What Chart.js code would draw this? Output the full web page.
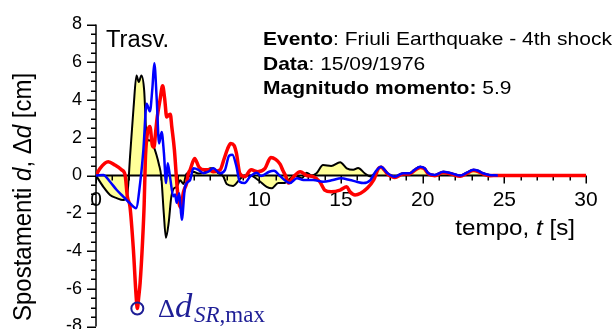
<!DOCTYPE html>
<html>
<head>
<meta charset="utf-8">
<script src="https://cdn.jsdelivr.net/npm/chart.js@4.4.1/dist/chart.umd.min.js"></script>
<style>
  html, body { margin: 0; padding: 0; background: #ffffff; }
  #wrap { width: 614px; height: 329px; position: relative; }
</style>
</head>
<body>
<div id="wrap"><canvas id="chart" width="614" height="329"></canvas></div>
<script>
// Time histories of transverse displacement, Friuli 15/09/1976 (t [s], d [cm])
const blackTrace = [
  [0,0],[0.45,-0.6],[0.86,-1.03],[1.27,-1.2],[1.67,-1.3],[1.9,-1.1],[2.1,1.2],[2.3,3.6],
  [2.48,5.3],[2.62,4.95],[2.78,5.3],[2.95,4.5],[3.1,2.0],[3.25,1.85],[3.4,1.9],[3.55,1.5],
  [3.7,1.1],[3.85,0.6],[4.0,-0.1],[4.15,-2.0],[4.28,-3.3],[4.45,-2.5],[4.6,-1.2],[4.75,-0.7],
  [4.95,-0.6],[5.15,-0.25],[5.35,-0.45],[5.55,0.1],[5.76,-0.05],[5.96,0.2],[6.27,0.1],[6.6,0.15],
  [6.98,0.38],[7.18,0.38],[7.45,0.15],[7.8,-0.06],[8.0,-0.45],[8.4,-0.55],[8.8,-0.2],[9.1,0.0],
  [9.45,0.0],[9.95,-0.25],[10.45,-0.6],[10.76,-0.68],[11.16,-0.4],[11.57,-0.4],[11.9,-0.15],[12.2,0.0],
  [12.6,-0.15],[12.9,0.15],[13.2,0.0],[13.5,0.12],[13.9,0.55],[14.4,0.5],[14.95,0.7],[15.35,0.38],
  [15.75,0.3],[16.05,0.4],[16.45,0.12],[16.8,-0.05],[17.15,0.2],[17.45,0.47],[17.85,0.12],[18.3,-0.06],
  [18.8,0.12],[19.2,0.12],[19.5,0.3],[19.85,0.47],[20.1,0.4],[20.35,0.12],[20.75,0.03],[21.25,0.2],
  [21.75,0.12],[22.3,0.0],[22.7,0.15],[23.1,0.3],[23.4,0.25],[23.7,0.12],[24.1,0.03],[24.6,0.0]
];
const blueTrace = [
  [0,0],[0.45,0.03],[0.86,-0.33],[1.27,-0.77],[1.67,-1.12],[2.08,-1.47],[2.45,-1.73],[2.7,-0.42],
  [2.9,1.35],[3.1,3.8],[3.3,3.4],[3.45,4.6],[3.57,5.95],[3.72,4.0],[3.86,1.7],[4.02,2.3],
  [4.16,1.17],[4.29,-0.4],[4.39,0.65],[4.53,-0.06],[4.73,-1.1],[4.84,-1.0],[4.94,-1.45],[5.1,-0.94],
  [5.25,-2.35],[5.45,-0.6],[5.76,-0.24],[5.96,0.38],[6.27,0.3],[6.57,0.12],[6.88,0.2],[7.18,0.38],
  [7.6,0.12],[7.9,0.3],[8.15,1.05],[8.35,1.1],[8.6,0.47],[8.8,-0.33],[9.1,-0.4],[9.43,-0.06],
  [9.84,0.15],[10.1,-0.03],[10.6,0.2],[10.9,0.25],[11.27,-0.03],[11.88,-0.4],[12.3,-0.15],[12.7,-0.24],
  [13.3,-0.24],[13.9,-0.33],[14.5,-0.24],[15.0,-0.15],[15.55,-0.24],[15.96,-0.33],[16.37,-0.4],[16.8,-0.24],
  [17.15,0.25],[17.45,0.47],[17.85,0.12],[18.3,-0.06],[18.8,0.12],[19.2,0.12],[19.5,0.3],[19.85,0.47],
  [20.1,0.4],[20.35,0.12],[20.75,0.03],[21.25,0.2],[21.75,0.12],[22.3,0.0],[22.7,0.15],[23.1,0.3],
  [23.4,0.25],[23.7,0.12],[24.1,0.03],[24.6,0.0]
];
const redTrace = [
  [0,0],[0.25,0.38],[0.75,0.73],[1.16,0.55],[1.57,0.3],[1.78,0.03],[1.92,-1.12],[2.08,-1.65],
  [2.29,-3.94],[2.45,-6.3],[2.53,-7.05],[2.62,-6.4],[2.7,-5.7],[2.85,-3.5],[2.95,-1.5],[3.02,0.8],
  [3.1,1.9],[3.3,2.6],[3.45,1.6],[3.55,1.5],[3.65,2.3],[3.75,3.1],[3.92,4.0],[4.08,4.75],
  [4.2,4.1],[4.33,3.1],[4.45,3.2],[4.55,3.25],[4.64,2.58],[4.8,1.35],[4.94,-0.3],[5.04,-1.3],
  [5.2,-1.7],[5.35,-0.9],[5.55,-0.4],[5.65,0.1],[5.76,0.3],[6.04,0.9],[6.3,0.45],[6.63,0.3],
  [6.9,0.3],[7.18,0.2],[7.6,0.3],[7.85,0.9],[8.05,1.4],[8.25,1.7],[8.45,1.6],[8.6,1.17],
  [8.8,0.12],[9.1,-0.06],[9.5,0.3],[9.9,0.2],[10.35,0.38],[10.7,0.95],[11.0,0.85],[11.27,0.6],
  [11.45,0.25],[11.6,0.0],[11.78,-0.4],[12.1,-0.06],[12.5,0.2],[12.9,0.0],[13.3,-0.06],[13.7,-0.33],
  [14.0,-0.77],[14.4,-0.86],[14.95,-0.77],[15.35,-0.6],[15.55,-0.86],[15.86,-1.03],[16.2,-0.94],[16.6,-0.68],
  [17.0,-0.24],[17.3,0.38],[17.45,0.44],[17.85,0.08],[18.3,-0.1],[18.8,0.08],[19.2,0.08],[19.5,0.26],
  [19.85,0.43],[20.1,0.36],[20.35,0.08],[20.75,-0.01],[21.25,0.16],[21.75,0.08],[22.3,-0.04],[22.7,0.11],
  [23.1,0.26],[23.4,0.21],[23.7,0.08],[24.1,-0.01],[24.6,0.0],[30,0]
];
// Peak of the relative displacement
const peakMarker = [[2.53, -7.05]];

// Axis ranges and tick values
const xRange = [0, 30];
const yRange = [-8, 8];
const xTickValues = [0,1,2,3,4,5,6,7,8,9,10,11,12,13,14,15,16,17,18,19,20,21,22,23,24,25,26,27,28,29,30];
const xTickLabels = [0, 10, 15, 20, 25, 30];
const yTickValues = [-8, -6, -4, -2, 0, 2, 4, 6, 8];
const yMinorStep = 0.5;
const xMajorStep = 5;

const SANS = "'Liberation Sans', Arial, sans-serif";
const SERIF = "'Liberation Serif', 'Times New Roman', serif";
const NAVY = '#1e1e96';

const toPoints = arr => arr.map(([t, d]) => ({ x: t, y: d }));

function runsWidth(ctx, runs) {
  let w = 0;
  runs.forEach(r => { ctx.font = r[1]; w += ctx.measureText(r[0]).width; });
  return w;
}
function drawRuns(ctx, runs, x, y, sx, color) {
  ctx.save();
  ctx.translate(x, y);
  ctx.scale(sx, 1);
  ctx.fillStyle = color;
  ctx.textAlign = 'left';
  ctx.textBaseline = 'alphabetic';
  let cx = 0;
  runs.forEach(r => {
    ctx.font = r[1];
    ctx.fillText(r[0], cx, r[2] || 0);
    cx += ctx.measureText(r[0]).width;
  });
  ctx.restore();
}

// Axis lines and major/minor tick marks
const axesPlugin = {
  id: 'axesTicks',
  beforeDatasetsDraw(chart) {
    const { ctx, scales: { x, y } } = chart;
    const y0 = y.getPixelForValue(0);
    const xl = x.getPixelForValue(xRange[0]);
    const xr = x.getPixelForValue(xRange[1]);
    ctx.save();
    ctx.strokeStyle = '#000';
    ctx.lineCap = 'butt';
    ctx.lineWidth = 1.5;
    ctx.beginPath();
    xTickValues.forEach(v => {
      const px = Math.round(x.getPixelForValue(v)) + 0.25;
      const len = v % xMajorStep === 0 ? 8 : 5;
      ctx.moveTo(px, y0); ctx.lineTo(px, y0 + len);
    });
    const ax = x.getPixelForValue(xRange[0]);
    for (let v = yRange[0]; v <= yRange[1] + 1e-9; v += yMinorStep) {
      const py = Math.round(y.getPixelForValue(v)) + 0.25;
      const len = Math.abs(v % 2) < 1e-9 ? 9 : 5;
      ctx.moveTo(ax, py); ctx.lineTo(ax - len, py);
    }
    ctx.stroke();
    ctx.lineWidth = 1.5;
    ctx.beginPath();
    ctx.moveTo(ax, y.getPixelForValue(yRange[1]));
    ctx.lineTo(ax, y.getPixelForValue(yRange[0]));
    ctx.stroke();
    ctx.lineWidth = 2;
    ctx.beginPath();
    ctx.moveTo(xl, y0); ctx.lineTo(xr, y0);
    ctx.stroke();
    ctx.restore();
  },
  afterDraw(chart) {
    const { ctx } = chart;
    // panel label
    drawRuns(ctx, [['Trasv.', '23px ' + SANS]], 106, 46.5, 1.03, '#000');
    // event information
    const B = 'bold 18.5px ' + SANS, R = '18.5px ' + SANS;
    drawRuns(ctx, [['Evento', B], [': Friuli Earthquake - 4th shock', R]], 263, 45, 1.135, '#000');
    drawRuns(ctx, [['Data', B], [': 15/09/1976', R]], 263, 69.5, 1.135, '#000');
    drawRuns(ctx, [['Magnitudo momento:', B], [' 5.9', R]], 263, 93.5, 1.135, '#000');
    // x axis title, right aligned
    const XR = '22px ' + SANS, XI = 'italic 22px ' + SANS;
    const xt = [['tempo, ', XR], ['t', XI], [' [s]', XR]];
    const xw = runsWidth(ctx, xt) * 1.1;
    drawRuns(ctx, xt, 575 - xw, 235, 1.1, '#000');
    // y axis title, rotated
    const YR = '24px ' + SANS, YI = 'italic 24px ' + SANS;
    const yt = [['Spostamenti ', YR], ['d', YI], [', ', YR], ['\u0394', YR], ['d', YI], [' [cm]', YR]];
    ctx.save();
    ctx.translate(31, 321);
    ctx.rotate(-Math.PI / 2);
    ctx.scale(1, 1.05);
    drawRuns(ctx, yt, 0, 0, 1, '#000');
    ctx.restore();
    // peak annotation
    drawRuns(ctx, [['\u0394', '25px ' + SERIF], ['d', 'italic 33px ' + SERIF]], 158, 316.5, 1.05, NAVY);
    drawRuns(ctx, [['SR', 'italic 23px ' + SERIF], [',max', '23px ' + SERIF]], 194, 321.7, 1.0, NAVY);
  }
};

const lineBase = { pointRadius: 0, pointHoverRadius: 0, cubicInterpolationMode: 'monotone', fill: false };

new Chart(document.getElementById('chart'), {
  type: 'line',
  data: {
    datasets: [
      { data: toPoints(peakMarker), showLine: false, pointRadius: 6, pointStyle: 'circle',
        pointBorderColor: NAVY, pointBackgroundColor: 'rgba(0,0,0,0)', pointBorderWidth: 2, clip: false },
      { ...lineBase, data: toPoints(blueTrace), borderColor: '#0000ff', borderWidth: 2.5 },
      { ...lineBase, data: toPoints(redTrace), borderColor: '#ff0000', borderWidth: 3.5 },
      { ...lineBase, data: toPoints(blackTrace), borderColor: '#000000', borderWidth: 2,
        fill: 'origin', backgroundColor: '#ffff99' }
    ]
  },
  options: {
    responsive: false,
    animation: false,
    events: [],
    devicePixelRatio: 1,
    layout: { autoPadding: false, padding: { top: 24.5, bottom: 2.5, left: 0, right: 28 } },
    plugins: {
      legend: { display: false },
      tooltip: { enabled: false },
      filler: { drawTime: 'beforeDatasetsDraw' }
    },
    scales: {
      x: {
        type: 'linear', min: xRange[0], max: xRange[1], position: { y: 0 },
        grid: { display: false, drawTicks: false }, border: { display: false },
        afterBuildTicks: s => { s.ticks = xTickValues.map(v => ({ value: v })); },
        ticks: {
          autoSkip: false, maxRotation: 0, padding: 12, color: '#000',
          font: { family: SANS, size: 21 },
          callback: v => xTickLabels.includes(v) ? String(v) : ''
        }
      },
      y: {
        type: 'linear', min: yRange[0], max: yRange[1],
        grid: { display: false, drawTicks: false }, border: { display: false },
        afterBuildTicks: s => { s.ticks = yTickValues.map(v => ({ value: v })); },
        afterFit: s => { s.width = 96; s.paddingTop = 0; s.paddingBottom = 0; },
        ticks: { padding: 14, color: '#000', font: { family: SANS, size: 18 }, callback: v => String(v) }
      }
    }
  },
  plugins: [axesPlugin]
});
</script>
</body>
</html>
